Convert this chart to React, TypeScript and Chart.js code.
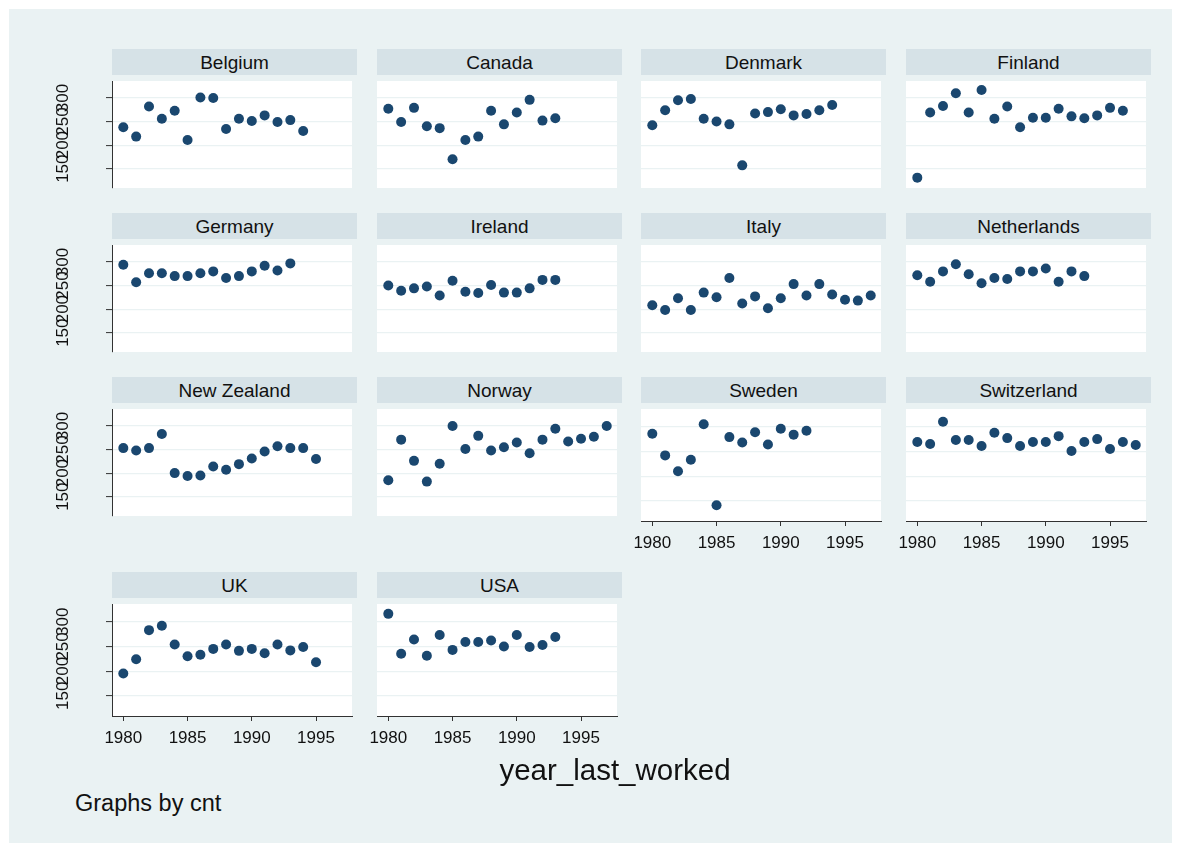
import React, { useEffect, useRef } from "react";
import { Chart, registerables } from "chart.js";

Chart.register(...registerables);

// ---------- data ----------
const years = [1980, 1981, 1982, 1983, 1984, 1985, 1986, 1987, 1988, 1989, 1990, 1991, 1992, 1993, 1994, 1995, 1996, 1997];
const countries = ["Belgium", "Canada", "Denmark", "Finland", "Germany", "Ireland", "Italy", "Netherlands", "New Zealand", "Norway", "Sweden", "Switzerland", "UK", "USA"];

const belgium = [238, 218, 282, 256, 273, 211, 301, 300, 234, 256, 251, 263, 249, 253, 230];
const canada = [277, 249, 279, 240, 236, 170, 211, 218, 273, 244, 269, 296, 252, 257];
const denmark = [242, 274, 295, 298, 256, 250, 244, 157, 267, 270, 276, 263, 266, 274, 285];
const finland = [131, 269, 283, 310, 269, 317, 256, 282, 238, 258, 258, 277, 261, 257, 263, 279, 273];
const germany = [294, 257, 276, 276, 270, 270, 276, 280, 266, 270, 280, 292, 282, 297];
const ireland = [250, 239, 244, 248, 229, 260, 237, 234, 251, 235, 235, 244, 262, 262];
const italy = [208, 198, 223, 198, 235, 225, 266, 212, 227, 202, 223, 253, 229, 253, 231, 220, 218, 229];
const netherlands = [272, 258, 280, 295, 274, 255, 266, 264, 280, 280, 286, 258, 280, 270];
const newZealand = [253, 248, 253, 283, 200, 194, 195, 214, 207, 219, 231, 246, 257, 253, 253, 230];
const norway = [185, 271, 226, 182, 220, 300, 251, 279, 248, 255, 265, 242, 271, 294, 267, 273, 277, 300];
const sweden = [286, 242, 210, 233, 305, 141, 279, 268, 289, 264, 296, 284, 292];
const switzerland = [269, 265, 310, 273, 273, 261, 288, 277, 261, 269, 269, 281, 251, 269, 275, 255, 269, 263];
const uk = [195, 224, 283, 292, 254, 230, 233, 245, 254, 241, 245, 236, 254, 242, 249, 218];
const usa = [316, 235, 264, 231, 273, 243, 259, 259, 262, 250, 273, 249, 253, 269];

const seriesValues = [belgium, canada, denmark, finland, germany, ireland, italy, netherlands, newZealand, norway, sweden, switzerland, uk, usa];

const yTicks = [150, 200, 250, 300];
const xTicks = [1980, 1985, 1990, 1995];
const Y_MIN = 109;
const Y_MAX = 336;
const X_MIN = 1979.12;
const X_MAX = 1997.8;

// ---------- style / layout ----------
const FONT = "'Liberation Sans', Arial, Helvetica, sans-serif";
const BG = "rgb(234,242,243)";
const HEADER_BG = "rgb(214,226,231)";
const GRID = "rgb(234,242,243)";
const AXIS = "rgb(50,50,50)";
const MARKER = "rgb(26,71,111)";

const COL_X = [112, 377, 641, 906];
const HEADER_Y = [49, 213, 377, 572];
const PLOT_W = 245;
const PLOT_H = 117;
const HEADER_H = 26;
const LEFT_M = 60;
const BOTTOM_M = 45;

const plotBg = {
  id: "plotBg",
  beforeDraw(chart: any) {
    const { ctx, chartArea: a } = chart;
    ctx.save();
    ctx.fillStyle = "#ffffff";
    ctx.fillRect(a.left, a.top, a.right - a.left, a.bottom - a.top);
    ctx.restore();
  },
};

function Panel({ idx }: { idx: number }) {
  const ref = useRef<HTMLCanvasElement | null>(null);
  const row = Math.floor(idx / 4);
  const col = idx % 4;
  const hasY = col === 0;
  const hasX = row === 3 || (row === 2 && col >= 2);
  const left = COL_X[col];
  const headerTop = HEADER_Y[row];
  const plotTop = headerTop + HEADER_H + 1;
  const cw = PLOT_W + LEFT_M;
  const ch = PLOT_H + (hasX ? BOTTOM_M : 0);

  useEffect(() => {
    const vals = seriesValues[idx];
    const chart = new Chart(ref.current as HTMLCanvasElement, {
      type: "scatter",
      data: {
        datasets: [
          {
            data: vals.map((v, i) => ({ x: years[i], y: v })),
            backgroundColor: MARKER,
            borderWidth: 0,
            pointRadius: 5,
            pointHoverRadius: 5,
          },
        ],
      },
      options: {
        animation: false,
        responsive: false,
        devicePixelRatio: 1,
        layout: { padding: 0 },
        plugins: { legend: { display: false }, tooltip: { enabled: false }, title: { display: false } },
        events: [],
        scales: {
          x: {
            type: "linear",
            display: hasX,
            min: X_MIN,
            max: X_MAX,
            afterBuildTicks: (s: any) => {
              s.ticks = xTicks.map((v) => ({ value: v }));
            },
            afterFit: (s: any) => {
              s.height = hasX ? BOTTOM_M : 0;
              s.paddingLeft = 0;
              s.paddingRight = 0;
            },
            grid: { drawOnChartArea: false, drawTicks: true, tickLength: 5, tickColor: AXIS, tickWidth: 1 },
            border: { display: true, color: AXIS, width: 1 },
            ticks: {
              autoSkip: false,
              maxRotation: 0,
              minRotation: 0,
              padding: 7,
              color: "#111",
              font: { family: FONT, size: 17 },
              callback: (v: any) => String(v),
            },
          },
          y: {
            type: "linear",
            display: true,
            min: Y_MIN,
            max: Y_MAX,
            afterBuildTicks: (s: any) => {
              s.ticks = yTicks.map((v) => ({ value: v }));
            },
            afterFit: (s: any) => {
              s.width = LEFT_M;
              s.paddingTop = 0;
              s.paddingBottom = 0;
            },
            grid: {
              color: GRID,
              lineWidth: 1.2,
              drawTicks: hasY,
              tickLength: 6,
              tickColor: AXIS,
              tickWidth: 1,
            },
            border: { display: hasY, color: AXIS, width: 1 },
            ticks: {
              display: hasY,
              autoSkip: false,
              minRotation: 90,
              maxRotation: 90,
              crossAlign: "center",
              padding: 29,
              color: "#111",
              font: { family: FONT, size: 17 },
              callback: (v: any) => String(v),
            },
          },
        },
      } as any,
      plugins: [plotBg],
    });
    return () => chart.destroy();
  }, [idx]);

  return (
    <>
      <div
        style={{
          position: "absolute",
          left,
          top: headerTop,
          width: PLOT_W,
          height: HEADER_H,
          lineHeight: HEADER_H + "px",
          background: HEADER_BG,
          textAlign: "center",
          fontFamily: FONT,
          fontSize: 19,
          color: "#111",
          paddingTop: 1,
          boxSizing: "border-box",
        }}
      >
        {countries[idx]}
      </div>
      <canvas
        ref={ref}
        width={cw}
        height={ch}
        style={{ position: "absolute", left: left - LEFT_M, top: plotTop, width: cw, height: ch }}
      />
    </>
  );
}

export default function App() {
  return (
    <div style={{ position: "fixed", left: 0, top: 0, width: 1181, height: 843, background: "#fff", overflow: "hidden" }}>
      <div style={{ position: "absolute", left: 9, top: 9, width: 1163, height: 834, background: BG }} />
      {countries.map((_, i) => (
        <Panel key={i} idx={i} />
      ))}
      <div
        style={{
          position: "absolute",
          left: 415,
          top: 753,
          width: 400,
          height: 34,
          lineHeight: "34px",
          textAlign: "center",
          fontFamily: FONT,
          fontSize: 29.5,
          color: "#111",
        }}
      >
        year_last_worked
      </div>
      <div
        style={{
          position: "absolute",
          left: 75,
          top: 790,
          height: 26,
          lineHeight: "26px",
          fontFamily: FONT,
          fontSize: 23.5,
          color: "#111",
          whiteSpace: "nowrap",
        }}
      >
        Graphs by cnt
      </div>
    </div>
  );
}
